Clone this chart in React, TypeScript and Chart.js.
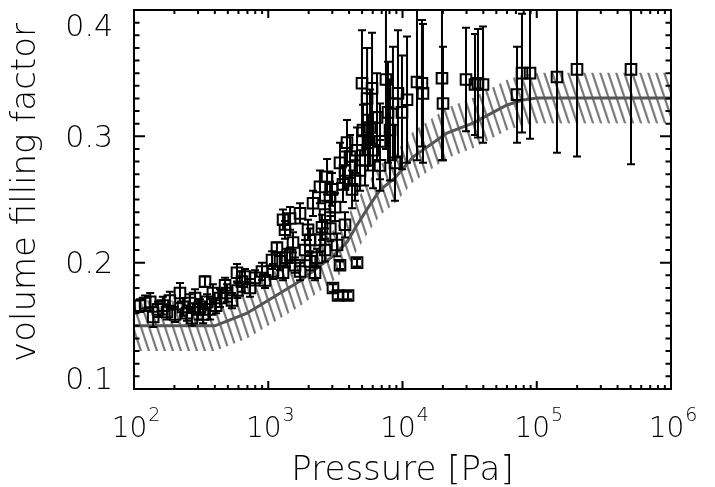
import React, { useEffect, useRef } from 'react';
import { Chart, registerables } from 'chart.js';

Chart.register(...registerables);

// ---- measured data (Pressure [Pa], volume filling factor, symmetric error) ----
const pressure = [
  111, 121, 132, 139, 151, 164, 176, 185, 202, 220, 232, 248, 261, 270, 285, 300, 310, 327, 338, 350,
  368, 387, 408, 437, 477, 493, 537, 585, 590, 637, 671, 731, 797, 898, 946, 1067, 1084, 1161, 1224, 1289,
  1380, 1454, 1529, 1583, 1725, 1725, 1333, 1289, 1454, 1880, 2048, 2155, 2230, 2428, 2440, 2513, 2741, 2886, 2900, 3143,
  3253, 3423, 3602, 3860, 4066, 4211, 4587, 4824, 5077, 5531, 4991, 5930, 5447, 5730, 6457, 6795, 6800, 7800, 8490, 9250,
  9910, 10810, 8790, 8075, 7530, 12820, 13960, 14210, 19680, 20030, 29720, 34670, 36490, 39800, 71300, 77630, 89100, 141500, 199500, 503500,
  3423, 4587, 3034, 3311, 3930, 2650, 2985, 3730, 4430, 5260, 6030, 1978, 2307, 2650, 3730, 2048,
];
const fillFactor = [
  0.166, 0.168, 0.169, 0.157, 0.163, 0.166, 0.161, 0.170, 0.159, 0.176, 0.165, 0.160, 0.168, 0.156, 0.172, 0.163, 0.165, 0.159, 0.185, 0.169,
  0.163, 0.176, 0.166, 0.172, 0.182, 0.176, 0.170, 0.192, 0.178, 0.185, 0.189, 0.180, 0.188, 0.193, 0.186, 0.202, 0.193, 0.212, 0.201, 0.192,
  0.204, 0.206, 0.216, 0.198, 0.193, 0.239, 0.226, 0.234, 0.235, 0.210, 0.218, 0.247, 0.192, 0.260, 0.218, 0.228, 0.268, 0.252, 0.227, 0.244,
  0.214, 0.279, 0.262, 0.295, 0.284, 0.258, 0.289, 0.273, 0.305, 0.295, 0.342, 0.338, 0.330, 0.307, 0.315, 0.296, 0.277, 0.319, 0.326, 0.334,
  0.319, 0.329, 0.279, 0.305, 0.345, 0.343, 0.342, 0.334, 0.346, 0.326, 0.345, 0.341, 0.342, 0.341, 0.333, 0.350, 0.350, 0.347, 0.353, 0.353,
  0.198, 0.200, 0.180, 0.174, 0.174, 0.238, 0.258, 0.273, 0.265, 0.281, 0.289, 0.226, 0.204, 0.210, 0.230, 0.201,
];
const fillError = [
  0.005, 0.006, 0.007, 0.008, 0.006, 0.007, 0.006, 0.007, 0.006, 0.008, 0.007, 0.006, 0.007, 0.006, 0.007, 0.008, 0.006, 0.007, 0.004, 0.006,
  0.008, 0.007, 0.006, 0.007, 0.006, 0.007, 0.006, 0.007, 0.006, 0.008, 0.006, 0.007, 0.006, 0.007, 0.006, 0.007, 0.006, 0.004, 0.007, 0.006,
  0.007, 0.006, 0.008, 0.006, 0.007, 0.008, 0.007, 0.008, 0.009, 0.008, 0.009, 0.010, 0.006, 0.013, 0.009, 0.010, 0.014, 0.012, 0.010, 0.011,
  0.009, 0.016, 0.014, 0.018, 0.017, 0.015, 0.018, 0.016, 0.020, 0.022, 0.042, 0.044, 0.040, 0.030, 0.035, 0.030, 0.020, 0.040, 0.045, 0.050,
  0.045, 0.050, 0.030, 0.040, 0.055, 0.062, 0.050, 0.055, 0.065, 0.045, 0.041, 0.040, 0.043, 0.046, 0.038, 0.047, 0.052, 0.060, 0.069, 0.075,
  0.003, 0.003, 0.003, 0.003, 0.003, 0.011, 0.013, 0.015, 0.016, 0.020, 0.030, 0.008, 0.007, 0.009, 0.010, 0.007,
];

// ---- model curve and its uncertainty band ----
const modelPressure = [100, 401, 695, 1725, 3034, 3860, 4587, 5447, 6795, 8790, 11950, 16030, 21440, 33490, 60000, 79000, 100000, 1000000];
const modelFactor = [0.150, 0.150, 0.160, 0.1855, 0.2052, 0.2163, 0.2298, 0.2424, 0.2575, 0.267, 0.2836, 0.2931, 0.3026, 0.3105, 0.3248, 0.3287, 0.3303, 0.3303];
const bandUpper = [0.170, 0.170, 0.180, 0.2055, 0.2252, 0.2363, 0.2498, 0.2624, 0.2775, 0.287, 0.3036, 0.3131, 0.3226, 0.3305, 0.3448, 0.3487, 0.3503, 0.3503];
const bandLower = [0.130, 0.130, 0.140, 0.1655, 0.1852, 0.1963, 0.2098, 0.2224, 0.2375, 0.247, 0.2636, 0.2731, 0.2826, 0.2905, 0.3048, 0.3087, 0.3103, 0.3103];

// ---- axes ----
const yTickValues = [0.1, 0.2, 0.3, 0.4];
const xExponents = [2, 3, 4, 5, 6];
const xTitle = 'Pressure [Pa]';
const yTitle = 'volume filling factor';

const FONT = '"DejaVu Sans", "Liberation Sans", sans-serif';
const W = '200';

function makeHatch(): CanvasPattern | string {
  const c = document.createElement('canvas');
  c.width = 8;
  c.height = 24;
  const g = c.getContext('2d');
  if (!g) return 'rgba(120,120,120,0.5)';
  g.strokeStyle = '#7a7a7a';
  g.lineWidth = 2.2;
  g.lineCap = 'butt';
  for (const x0 of [-8, 0, 8]) {
    g.beginPath();
    g.moveTo(x0, 0);
    g.lineTo(x0 + 8, 24);
    g.stroke();
  }
  const p = g.createPattern(c, 'repeat');
  return p || 'rgba(120,120,120,0.5)';
}

const errorBarPlugin = {
  id: 'errorBars',
  afterDatasetsDraw(chart: any) {
    const { ctx, chartArea: a } = chart;
    const xs = chart.scales.x;
    const ys = chart.scales.y;
    ctx.save();
    ctx.beginPath();
    ctx.rect(a.left, a.top, a.right - a.left, a.bottom - a.top);
    ctx.clip();
    ctx.strokeStyle = '#000';
    ctx.lineWidth = 2;
    const cap = 4;
    for (let i = 0; i < pressure.length; i++) {
      const px = xs.getPixelForValue(pressure[i]);
      const top = ys.getPixelForValue(fillFactor[i] + fillError[i]);
      const bot = ys.getPixelForValue(fillFactor[i] - fillError[i]);
      ctx.beginPath();
      ctx.moveTo(px, top);
      ctx.lineTo(px, bot);
      ctx.moveTo(px - cap, top);
      ctx.lineTo(px + cap, top);
      ctx.moveTo(px - cap, bot);
      ctx.lineTo(px + cap, bot);
      ctx.stroke();
    }
    ctx.restore();
  },
};

const idlAxesPlugin = {
  id: 'idlAxes',
  afterDraw(chart: any) {
    const { ctx, chartArea: a } = chart;
    const xs = chart.scales.x;
    const ys = chart.scales.y;
    ctx.save();
    ctx.strokeStyle = '#000';
    ctx.fillStyle = '#000';
    ctx.lineWidth = 2;
    ctx.strokeRect(a.left, a.top, a.right - a.left, a.bottom - a.top);

    // x ticks (log decades + minors), on bottom and top
    ctx.beginPath();
    const xMajor = 8;
    const xMinor = 4;
    for (let k = 0; k < xExponents.length; k++) {
      const e = xExponents[k];
      const base = Math.pow(10, e);
      const px = xs.getPixelForValue(base);
      ctx.moveTo(px, a.bottom);
      ctx.lineTo(px, a.bottom - xMajor);
      ctx.moveTo(px, a.top);
      ctx.lineTo(px, a.top + xMajor);
      if (k < xExponents.length - 1) {
        for (let m = 2; m <= 9; m++) {
          const q = xs.getPixelForValue(m * base);
          ctx.moveTo(q, a.bottom);
          ctx.lineTo(q, a.bottom - xMinor);
          ctx.moveTo(q, a.top);
          ctx.lineTo(q, a.top + xMinor);
        }
      }
    }
    // y ticks, on left and right
    const yMajor = 11;
    const yMinor = 5.5;
    for (let k = 0; k < yTickValues.length; k++) {
      const v = yTickValues[k];
      const py = ys.getPixelForValue(v);
      ctx.moveTo(a.left, py);
      ctx.lineTo(a.left + yMajor, py);
      ctx.moveTo(a.right, py);
      ctx.lineTo(a.right - yMajor, py);
      if (k < yTickValues.length - 1) {
        const step = (yTickValues[k + 1] - v) / 10;
        for (let m = 1; m < 10; m++) {
          const q = ys.getPixelForValue(v + m * step);
          ctx.moveTo(a.left, q);
          ctx.lineTo(a.left + yMinor, q);
          ctx.moveTo(a.right, q);
          ctx.lineTo(a.right - yMinor, q);
        }
      }
    }
    ctx.stroke();

    // y tick labels
    ctx.font = `${W} 30px ${FONT}`;
    ctx.textAlign = 'right';
    for (let k = 0; k < yTickValues.length; k++) {
      const v = yTickValues[k];
      const py = ys.getPixelForValue(v);
      const label = v.toFixed(1);
      if (k === 0) {
        ctx.textBaseline = 'alphabetic';
        ctx.fillText(label, a.left - 21, py);
      } else if (k === yTickValues.length - 1) {
        ctx.textBaseline = 'top';
        ctx.fillText(label, a.left - 21, py + 3);
      } else {
        ctx.textBaseline = 'middle';
        ctx.fillText(label, a.left - 21, py + 3);
      }
    }

    // x tick labels: 10 with superscript exponent
    ctx.textAlign = 'left';
    ctx.textBaseline = 'alphabetic';
    for (const e of xExponents) {
      const px = xs.getPixelForValue(Math.pow(10, e));
      ctx.font = `${W} 28px ${FONT}`;
      const w1 = ctx.measureText('10').width;
      ctx.font = `${W} 19px ${FONT}`;
      const w2 = ctx.measureText(String(e)).width;
      const x0 = px - (w1 + w2 + 1) / 2 + 2;
      ctx.font = `${W} 28px ${FONT}`;
      ctx.fillText('10', x0, a.bottom + 48);
      ctx.font = `${W} 19px ${FONT}`;
      ctx.fillText(String(e), x0 + w1 + 1, a.bottom + 32);
    }

    // axis titles
    ctx.font = `${W} 34px ${FONT}`;
    ctx.textAlign = 'center';
    ctx.textBaseline = 'alphabetic';
    ctx.fillText(xTitle, (a.left + a.right) / 2, a.bottom + 91);

    ctx.save();
    ctx.translate(35, (a.top + a.bottom) / 2 - 7);
    ctx.rotate(-Math.PI / 2);
    ctx.fillText(yTitle, 0, 0);
    ctx.restore();

    ctx.restore();
  },
};

export default function App() {
  const canvasRef = useRef<HTMLCanvasElement | null>(null);

  useEffect(() => {
    document.body.style.margin = '0';
    const canvas = canvasRef.current;
    if (!canvas) return;
    const hatch = makeHatch();

    const points = pressure.map((p, i) => ({ x: p, y: fillFactor[i] }));
    const model = modelPressure.map((p, i) => ({ x: p, y: modelFactor[i] }));
    const upper = modelPressure.map((p, i) => ({ x: p, y: bandUpper[i] }));
    const lower = modelPressure.map((p, i) => ({ x: p, y: bandLower[i] }));

    const chart = new Chart(canvas, {
      type: 'scatter',
      data: {
        datasets: [
          {
            label: 'data',
            data: points,
            order: 0,
            pointStyle: 'rect',
            pointRadius: 7.5,
            pointBorderWidth: 2,
            borderColor: '#000',
            backgroundColor: 'rgba(0,0,0,0)',
            showLine: false,
          },
          {
            label: 'model',
            data: model,
            order: 1,
            showLine: true,
            borderColor: '#555555',
            borderWidth: 3,
            pointRadius: 0,
            fill: false,
            tension: 0,
          },
          {
            label: 'upper',
            data: upper,
            order: 2,
            showLine: true,
            borderWidth: 0,
            borderColor: 'rgba(0,0,0,0)',
            pointRadius: 0,
            backgroundColor: hatch as any,
            fill: '+1',
          },
          {
            label: 'lower',
            data: lower,
            order: 3,
            showLine: true,
            borderWidth: 0,
            borderColor: 'rgba(0,0,0,0)',
            pointRadius: 0,
            fill: false,
          },
        ],
      },
      options: {
        animation: false,
        responsive: false,
        devicePixelRatio: 1,
        events: [],
        layout: { padding: { left: 134, right: 44, top: 10, bottom: 98 } },
        plugins: {
          legend: { display: false },
          tooltip: { enabled: false },
        },
        scales: {
          x: { type: 'logarithmic', min: 100, max: 1000000, display: false },
          y: { type: 'linear', min: 0.1, max: 0.4, display: false },
        },
      },
      plugins: [errorBarPlugin, idlAxesPlugin],
    });

    return () => chart.destroy();
  }, []);

  return (
    <div style={{ width: 715, height: 487, background: '#fff' }}>
      <canvas ref={canvasRef} width={715} height={487} />
    </div>
  );
}
